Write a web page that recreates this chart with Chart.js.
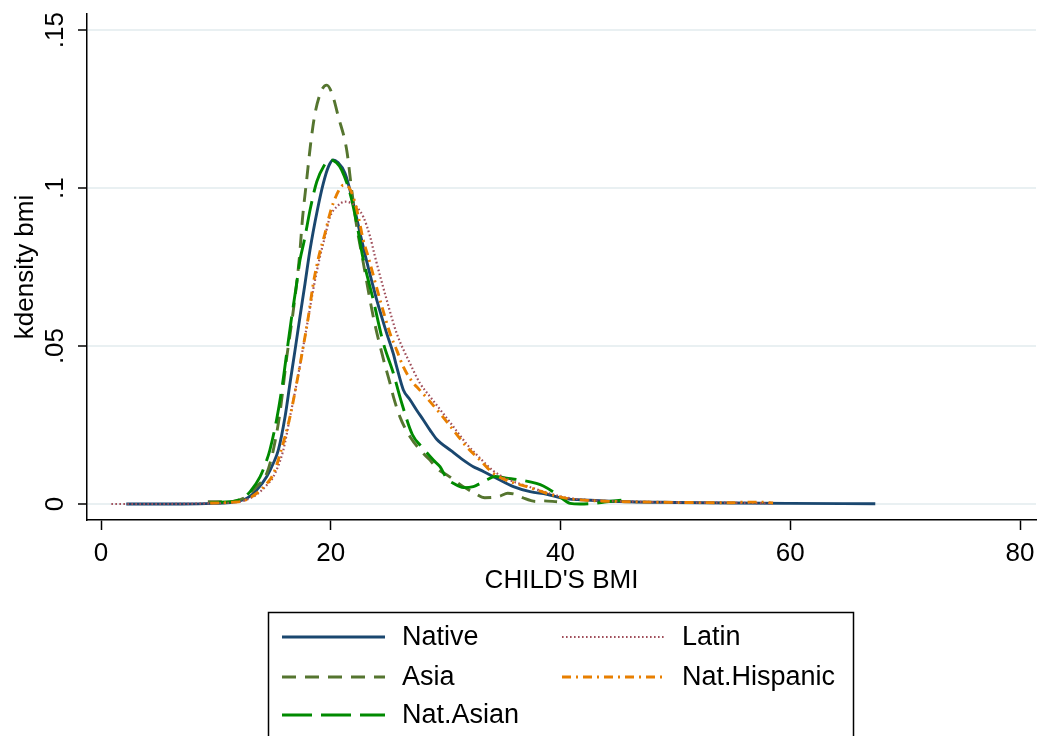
<!DOCTYPE html>
<html>
<head>
<meta charset="utf-8">
<script src="https://cdn.jsdelivr.net/npm/chart.js@4/dist/chart.umd.min.js"></script>
<style>
html,body{margin:0;padding:0;background:#ffffff;}
canvas{display:block;}
</style>
</head>
<body>
<canvas id="c" width="1038" height="736"></canvas>
<script>
// ---- tick labels ----
const xTickValues = [0, 20, 40, 60, 80];
const xTickLabels = ['0', '20', '40', '60', '80'];
const yTickValues = [0, 0.05, 0.1, 0.15];
const yTickLabels = ['0', '.05', '.1', '.15'];
const xTitle = "CHILD'S BMI";
const yTitle = 'kdensity bmi';
const seriesNames = ['Native', 'Asia', 'Nat.Asian', 'Latin', 'Nat.Hispanic'];

// ---- series values (BMI, density) ----
const nativeX = [2.2, 7, 9.8, 11.5, 12.7, 13.55, 14.43, 15.0, 15.44, 16.02, 16.45, 16.89, 17.32, 17.76, 18.19, 18.83, 19.35, 19.8, 20.2, 20.6, 21.24, 21.96, 22.55, 22.98, 23.5, 24.0, 24.87, 25.45, 25.74, 26.32, 26.9, 27.48, 28.06, 28.64, 29.22, 30.5, 31.54, 32.41, 33.0, 34.3, 35.9, 37.35, 38.8, 40.25, 42.6, 46, 50, 55, 60, 67.4];
const nativeY = [0, 0, 0.0002, 0.0006, 0.0018, 0.0044, 0.0087, 0.0129, 0.0171, 0.0276, 0.0382, 0.0487, 0.0593, 0.0698, 0.0804, 0.093, 0.1015, 0.1068, 0.1089, 0.1082, 0.1047, 0.0952, 0.0857, 0.079, 0.0715, 0.0646, 0.054, 0.0475, 0.0434, 0.0361, 0.033, 0.0297, 0.0266, 0.0234, 0.0205, 0.0168, 0.0139, 0.0118, 0.0108, 0.0084, 0.0055, 0.0039, 0.0031, 0.0018, 0.0012, 0.0007, 0.0005, 0.0003, 0.0002, 0.0001];

const asiaX = [9.3, 10.5, 11.5, 12.4, 13.55, 14.43, 15.0, 15.58, 16.17, 16.6, 17.03, 17.3, 17.53, 17.9, 18.25, 18.63, 19.21, 19.65, 20.1, 20.66, 21.39, 21.82, 22.26, 22.75, 23.7, 24.57, 25.16, 25.45, 26.03, 26.9, 28.06, 28.64, 29.22, 30.2, 31.54, 32.5, 33.4, 34.15, 34.73, 35.4, 36.1, 36.76, 37.9, 38.5, 39.7];
const asiaY = [0.0007, 0.0007, 0.0008, 0.0018, 0.0055, 0.0097, 0.0171, 0.029, 0.0465, 0.0575, 0.0698, 0.0793, 0.09, 0.1025, 0.1141, 0.1236, 0.131, 0.1326, 0.130, 0.1226, 0.112, 0.0994, 0.0878, 0.078, 0.0593, 0.046, 0.0382, 0.034, 0.0275, 0.0213, 0.016, 0.0139, 0.0113, 0.009, 0.0055, 0.0035, 0.002, 0.0021, 0.0025, 0.0034, 0.003, 0.0019, 0.0008, 0.001, 0.0007];

const natAsianX = [9.5, 11.5, 12.4, 13.0, 13.84, 14.43, 14.7, 15.3, 15.8, 16.2, 16.6, 17.0, 17.32, 17.67, 18.25, 18.78, 19.4, 19.93, 20.5, 20.95, 21.68, 22.26, 22.78, 23.7, 24.57, 25.45, 26.1, 27.1, 28.0, 28.93, 29.51, 30.1, 30.7, 31.54, 32.41, 33.0, 33.57, 34.3, 35.3, 36.5, 37.9, 38.5, 39.67, 40.83, 41.7, 42.86, 44.0, 45.3];
const natAsianY = [0.0005, 0.0008, 0.002, 0.004, 0.0086, 0.0139, 0.0171, 0.027, 0.038, 0.0487, 0.0593, 0.069, 0.0772, 0.083, 0.094, 0.102, 0.107, 0.109, 0.108, 0.1057, 0.0983, 0.0888, 0.0783, 0.0646, 0.051, 0.0414, 0.0329, 0.022, 0.0178, 0.0139, 0.0118, 0.0081, 0.0065, 0.0052, 0.0055, 0.0065, 0.0076, 0.0087, 0.0082, 0.0076, 0.0065, 0.0057, 0.0031, 0.0002, 0, 0.0002, 0.0007, 0.0012];

const latinX = [0.9, 5, 9.5, 11.5, 12.4, 13.55, 14.43, 15.0, 15.87, 16.45, 17.03, 17.55, 18.05, 18.48, 19.06, 19.5, 19.93, 20.5, 21.24, 22.26, 22.83, 23.42, 23.85, 24.87, 25.74, 26.9, 27.77, 28.64, 29.5, 30.67, 31.83, 33.0, 34.15, 35.61, 37.06, 38.8, 40.54, 43.15, 46, 50, 55, 58.5];
const latinY = [0, 0, 0.0002, 0.0005, 0.001, 0.003, 0.006, 0.0086, 0.0171, 0.0276, 0.0382, 0.0487, 0.059, 0.068, 0.0783, 0.0847, 0.0909, 0.094, 0.0957, 0.094, 0.0909, 0.0847, 0.0783, 0.0646, 0.054, 0.0445, 0.0382, 0.034, 0.030, 0.0245, 0.019, 0.0145, 0.0105, 0.0075, 0.0057, 0.0036, 0.002, 0.0011, 0.0008, 0.0005, 0.0004, 0.0002];

const natHispX = [9.5, 10.65, 11.5, 12.4, 13.55, 14.43, 15.0, 15.6, 16.45, 17.03, 17.55, 18.05, 18.48, 19.0, 19.5, 19.93, 20.5, 21.1, 21.5, 21.96, 22.4, 22.83, 23.2, 24.29, 25.16, 25.74, 26.32, 27.19, 27.48, 28.5, 29.51, 30.67, 31.83, 33.0, 34.15, 35.61, 37.06, 38.8, 40.54, 43.15, 46, 50, 55, 56, 57.6, 58.5];
const natHispY = [0.0003, 0.0004, 0.0006, 0.001, 0.0034, 0.0065, 0.0095, 0.016, 0.0276, 0.0382, 0.0487, 0.0593, 0.0698, 0.079, 0.0857, 0.092, 0.0978, 0.1009, 0.1005, 0.0972, 0.091, 0.0835, 0.079, 0.0646, 0.054, 0.0487, 0.0434, 0.0382, 0.0371, 0.033, 0.0287, 0.0234, 0.0181, 0.0139, 0.0097, 0.0071, 0.0055, 0.0034, 0.0018, 0.001, 0.0007, 0.0005, 0.0004, 0.0006, 0.0006, 0.0003];

// ---- styling ----
const FONT = '"Liberation Sans", Arial, sans-serif';
const TICK_PX = 26;
const LEGEND_PX = 27;
const pts = (xs, ys) => xs.map((x, i) => ({ x: x, y: ys[i] }));

function mk(label, xs, ys, color, dash, width, order) {
  return {
    label: label,
    data: pts(xs, ys),
    borderColor: color,
    backgroundColor: color,
    borderWidth: width,
    borderDash: dash,
    borderCapStyle: 'butt',
    borderJoinStyle: 'round',
    pointRadius: 0,
    fill: false,
    cubicInterpolationMode: 'monotone',
    order: order
  };
}

const datasets = [
  mk(seriesNames[0], nativeX, nativeY, '#1a476f', [], 2.9, 5),
  mk(seriesNames[1], asiaX, asiaY, '#55752f', [14, 9], 2.9, 4),
  mk(seriesNames[2], natAsianX, natAsianY, '#008a00', [30, 9], 2.9, 3),
  mk(seriesNames[3], latinX, latinY, '#a04e5a', [1.6, 2.4], 2.2, 2),
  mk(seriesNames[4], natHispX, natHispY, '#e87f00', [9, 5, 2, 5], 2.9, 1)
];

// Stata-style boxed legend, two columns, drawn below the plot
const legendPlugin = {
  id: 'stataLegend',
  afterDraw(chart) {
    const ctx = chart.ctx;
    ctx.save();
    ctx.setLineDash([]);
    ctx.strokeStyle = '#000';
    ctx.lineWidth = 1.5;
    ctx.strokeRect(268.5, 612.5, 585, 140);
    const cols = [[282, 385, 402], [562, 664, 682]];
    const rows = [637, 677, 715];
    const slots = [[0, 0], [0, 1], [0, 2], [1, 0], [1, 1]];
    chart.data.datasets.forEach((ds, i) => {
      const c = cols[slots[i][0]];
      const y = rows[slots[i][1]];
      ctx.beginPath();
      ctx.setLineDash(ds.borderDash || []);
      ctx.lineWidth = ds.borderWidth;
      ctx.strokeStyle = ds.borderColor;
      ctx.lineCap = 'butt';
      ctx.moveTo(c[0], y);
      ctx.lineTo(c[1], y);
      ctx.stroke();
      ctx.setLineDash([]);
      ctx.fillStyle = '#000';
      ctx.font = LEGEND_PX + 'px ' + FONT;
      ctx.textAlign = 'left';
      ctx.textBaseline = 'middle';
      ctx.fillText(ds.label, c[2], y + 1);
    });
    ctx.restore();
  }
};

new Chart(document.getElementById('c'), {
  type: 'line',
  data: { datasets: datasets },
  plugins: [legendPlugin],
  options: {
    responsive: false,
    animation: false,
    devicePixelRatio: 1,
    parsing: true,
    layout: { padding: { top: 14, right: 2, bottom: 136, left: 0 } },
    plugins: { legend: { display: false }, tooltip: { enabled: false } },
    scales: {
      x: {
        type: 'linear',
        min: -1.22,
        max: 81.39,
        afterBuildTicks: (s) => { s.ticks = xTickValues.map(v => ({ value: v })); },
        afterFit: (s) => { s.height = 80; s.paddingLeft = 0; s.paddingRight = 0; },
        ticks: {
          autoSkip: false,
          maxRotation: 0,
          minRotation: 0,
          padding: 8,
          color: '#000',
          font: { family: FONT, size: TICK_PX },
          callback: (v, i) => xTickLabels[i]
        },
        grid: { drawOnChartArea: false, drawTicks: true, tickLength: 10, tickColor: '#000', tickWidth: 1.5 },
        border: { display: true, color: '#000', width: 1.5 },
        title: { display: true, text: xTitle, color: '#000', font: { family: FONT, size: TICK_PX }, padding: { top: 0, bottom: 4 } }
      },
      y: {
        type: 'linear',
        min: -0.00506,
        max: 0.1551,
        afterBuildTicks: (s) => { s.ticks = yTickValues.map(v => ({ value: v })); },
        afterFit: (s) => { s.width = 87; s.paddingTop = 0; s.paddingBottom = 0; },
        ticks: {
          autoSkip: false,
          minRotation: 90,
          maxRotation: 90,
          crossAlign: 'center',
          padding: 4,
          color: '#000',
          font: { family: FONT, size: TICK_PX },
          callback: (v, i) => yTickLabels[i]
        },
        grid: { drawOnChartArea: true, color: '#e9f0f2', lineWidth: 2, drawTicks: true, tickLength: 9, tickColor: '#000', tickWidth: 1.5 },
        border: { display: true, color: '#000', width: 1.5 },
        title: { display: true, text: yTitle, color: '#000', font: { family: FONT, size: TICK_PX }, padding: { top: 10, bottom: 0 } }
      }
    }
  }
});
</script>
</body>
</html>
